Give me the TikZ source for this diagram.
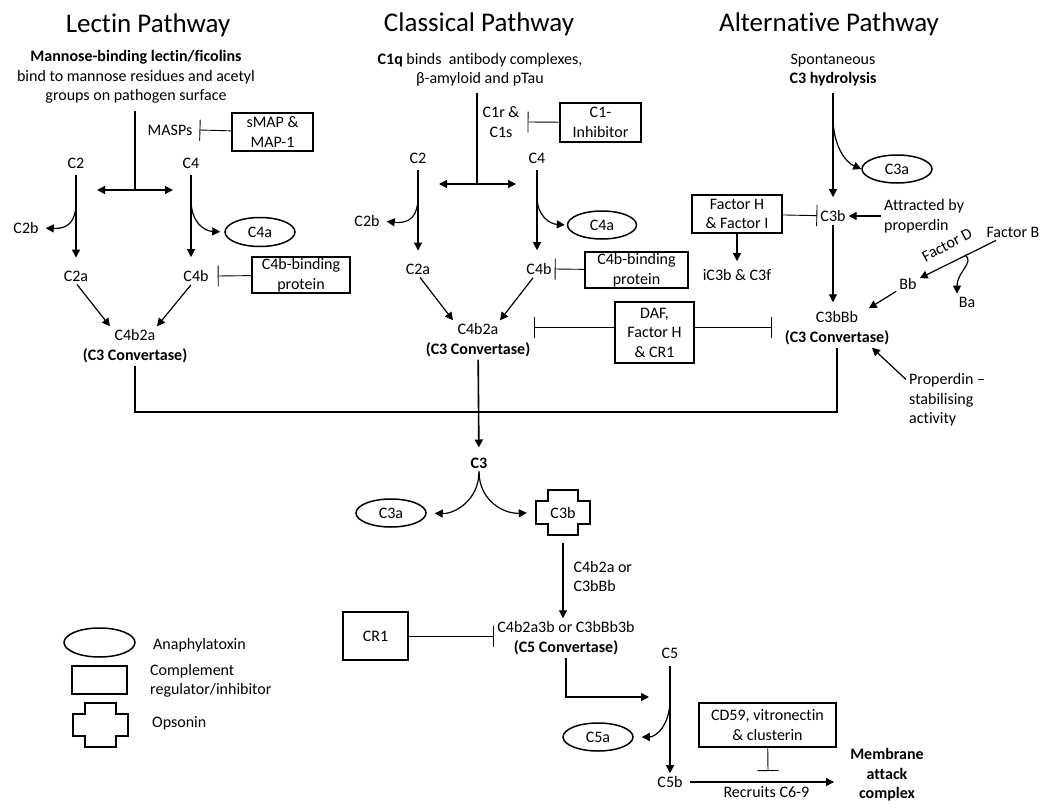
\documentclass[tikz,border=0pt]{standalone}
\usepackage{fontspec}
\setmainfont{Carlito}[Ligatures={NoCommon}]
\usepackage{tikz}
\usetikzlibrary{arrows.meta}
\usetikzlibrary{shapes.geometric,calc}

\tikzset{
  pathtitle/.style={font=\fontsize{27}{32}\selectfont},
  lbl/.style={inner sep=3pt, align=center},
  toxin/.style={draw, ellipse, line width=1.5pt, minimum width=69pt, minimum height=28pt, inner sep=0pt},
  regbox/.style={draw, rectangle, line width=1.5pt, align=center, inner sep=0pt},
  conn/.style={line width=1.2pt},
  arr/.style={line width=1.2pt, -{Triangle[length=8pt,width=8pt]}},
  dblarr/.style={line width=1.2pt, {Triangle[length=8pt,width=8pt]}-{Triangle[length=8pt,width=8pt]}},
  cleave/.style={arr, shorten <=4pt, shorten >=10pt},
  inhib/.style={line width=0.9pt, -{Bar[width=21pt,line width=0.9pt]}},
}
% cross outline for an opsonin node
\newcommand{\opsoninshape}[1]{%
  \draw[line width=1.5pt] ([xshift=12pt]#1.north west) -- ([xshift=-12pt]#1.north east)
    -- ([xshift=-12pt,yshift=-11pt]#1.north east) -- ([yshift=-11pt]#1.north east)
    -- ([yshift=11pt]#1.south east) -- ([xshift=-12pt,yshift=11pt]#1.south east)
    -- ([xshift=-12pt]#1.south east) -- ([xshift=12pt]#1.south west)
    -- ([xshift=12pt,yshift=11pt]#1.south west) -- ([yshift=11pt]#1.south west)
    -- ([yshift=-11pt]#1.north west) -- ([xshift=12pt,yshift=-11pt]#1.north west) -- cycle;}

\begin{document}
\begin{tikzpicture}[x=1pt,y=-1pt,font=\fontsize{16}{19.5}\selectfont]
	\useasboundingbox (0,0) rectangle (1045,808);
	% titles
	\node[pathtitle] (lectinT) at (148,25) {Lectin Pathway};
	\node[pathtitle] (classT) at (479,24) {Classical Pathway};
	\node[pathtitle] (altT) at (829,24) {Alternative Pathway};

	% lectin pathway
	\node[lbl] (mbl) at (136,77) {\textbf{Mannose-binding lectin/ficolins}\\bind to mannose residues and acetyl\\groups on pathogen surface};
	\coordinate (mblB) at (135,190);
	\coordinate (mblL) at (97,190);
	\coordinate (mblR) at (173,190);
	\draw[conn] ([yshift=-4pt]mbl.south -| mblB) -- (mblB);
	\draw[dblarr] (mblL) -- (mblR);
	\node[lbl] (masps) at (170,130) {MASPs};
	\node[regbox, minimum width=81pt, minimum height=38pt] (smap) at (272.5,132) {sMAP \&\\MAP-1};
	\draw[inhib] (smap) -- ([xshift=4pt]masps.east);
	\node[lbl] (c2L) at (76,163) {C2};
	\node[lbl] (c2bL) at (26,228) {C2b};
	\node[lbl] (c2aL) at (76,276) {C2a};
	\draw[cleave] (c2L) -- (c2aL);
	\coordinate (c2sp) at (76,202);
	\draw[arr, shorten >=4pt] (c2sp) .. controls (76,222) and (68,229) .. (c2bL.east);
	\node[lbl] (c4L) at (191,163) {C4};
	\node[toxin, minimum width=70pt, minimum height=29pt] (c4aL) at (260,232) {C4a};
	\node[lbl] (c4bL) at (196,276) {C4b};
	\draw[cleave] (c4L.south) -- (c4L.south |- c4bL.north);
	\coordinate (c4sp) at (191,200);
	\draw[arr, shorten >=4pt] (c4sp) .. controls (191,222) and (204,231) .. (c4aL.west);
	\node[regbox, minimum width=98pt, minimum height=36pt] (c4bbpL) at (301,275) {C4b-binding\\protein};
	\draw[inhib] (c4bbpL) -- ([xshift=6pt]c4bL.east);
	\node[lbl] (convL) at (135,346) {C4b2a\\\textbf{(C3 Convertase)}};
	\draw[arr] ([xshift=1pt]c2aL.south) -- ([xshift=-25pt]convL.north);
	\draw[arr] ([xshift=-5pt]c4bL.south) -- ([xshift=22pt]convL.north);

	% classical pathway
	\node[lbl] (c1q) at (480,70) {\textbf{C1q} binds~ antibody complexes,\\β-amyloid and pTau};
	\coordinate (c1qB) at (477,184);
	\coordinate (c1qL) at (439,184);
	\coordinate (c1qR) at (516,184);
	\draw[conn] ([yshift=-3pt]c1q.south -| c1qB) -- (c1qB);
	\draw[dblarr] (c1qL) -- (c1qR);
	\node[lbl] (c1rs) at (501,122) {C1r \&\\C1s};
	\node[regbox, minimum width=81pt, minimum height=39pt] (c1inh) at (600.5,122.5) {C1-\\Inhibitor};
	\draw[inhib] (c1inh) -- ([xshift=5pt]c1rs.east);
	\node[lbl] (c2C) at (418,158) {C2};
	\node[lbl] (c2bC) at (367,221) {C2b};
	\node[lbl] (c2aC) at (418,269) {C2a};
	\draw[cleave] (c2C) -- (c2aC);
	\coordinate (c2spC) at (418,197);
	\draw[arr, shorten >=4pt] (c2spC) .. controls (418,216) and (410,224) .. (c2bC.east);
	\node[lbl] (c4C) at (537,158) {C4};
	\node[toxin] (c4aC) at (602,225) {C4a};
	\node[lbl] (c4bC) at (539,269) {C4b};
	\draw[cleave] (c4C.south) -- (c4C.south |- c4bC.north);
	\coordinate (c4spC) at (537,197);
	\draw[arr, shorten >=2pt] (c4spC) .. controls (537,216) and (550,224) .. (c4aC.west);
	\node[regbox, minimum width=103pt, minimum height=36pt] (c4bbpC) at (636.5,270) {C4b-binding\\protein};
	\draw[inhib] (c4bbpC) -- (c4bC.east);
	\node[lbl] (convC) at (478,340) {C4b2a\\\textbf{(C3 Convertase)}};
	\draw[arr] ([xshift=2pt]c2aC.south) -- ([xshift=-25pt]convC.north);
	\draw[arr] ([xshift=-6pt]c4bC.south) -- ([xshift=22pt]convC.north);
	\node[regbox, minimum width=79pt, minimum height=61pt] (daf) at (654.5,332.5) {DAF,\\Factor H\\\& CR1};
	\coordinate (dafL) at (534,327);
	\coordinate (dafR) at (772,327);
	\draw[inhib] (daf.west |- dafL) -- (dafL);
	\draw[inhib] (daf.east |- dafR) -- (dafR);

	% alternative pathway
	\node[lbl] (spont) at (833,70) {Spontaneous\\\textbf{C3 hydrolysis}};
	\node[lbl] (c3bA) at (833,216) {C3b};
	\draw[cleave] (spont) -- (c3bA);
	\node[toxin, minimum width=70pt] (c3aA) at (897,169) {C3a};
	\coordinate (c3spA) at (833,117);
	\draw[arr] (c3spA) .. controls (833,145) and (845,162) .. (c3aA.west);
	\node[regbox, minimum width=90pt, minimum height=38pt] (fhfi) at (737,214) {Factor H\\\& Factor I};
	\draw[inhib] (fhfi) -- (c3bA);
	\node[lbl] (ic3b) at (737,275) {iC3b \& C3f};
	\draw[arr, shorten >=5pt] (fhfi) -- (ic3b);
	\node[lbl, anchor=west, align=left] (attr) at (881,216) {Attracted by\\properdin};
	\draw[arr] (attr.west) -- (c3bA.east);
	\node[lbl] (convA) at (837,328) {C3bBb\\\textbf{(C3 Convertase)}};
	\draw[arr, shorten >=6pt] (c3bA.south) -- (c3bA.south |- convA.north);
	\node[lbl] (factB) at (1013,232) {Factor B};
	\node[lbl] (bb) at (908,284) {Bb};
	\node[lbl] (ba) at (967,302) {Ba};
	\draw[arr] (factB) -- (bb);
	\node[inner sep=1pt, rotate=28] (factD) at (947,245) {Factor D};
	\coordinate (baSp) at (965,255);
	\draw[arr] (baSp) .. controls (975,262) and (957,272) .. ([xshift=-10pt]ba.north);
	\draw[arr] (bb) -- (convA);
	\node[lbl, anchor=west, align=left] (prop) at (906,400) {Properdin –\\stabilising\\activity};
	\draw[arr] ([yshift=-9pt]prop.north west) -- ([xshift=35pt]convA.south);

	% the three pathways join
	\coordinate (joinL) at (135,412);
	\coordinate (joinR) at (837,412);
	\draw[line width=1.6pt] (convL.south) -- (joinL) -- (joinR) -- (convA.south);
	\node[lbl] (c3) at (479,463) {\textbf{C3}};
	\draw[arr, line width=1.6pt, shorten >=7pt] (convC) -- (c3);
	\node[toxin, minimum width=70pt] (c3aM) at (391,513) {C3a};
	\node[inner sep=0pt, minimum width=54pt, minimum height=45pt] (c3bM) at (563,512.5) {C3b};
	\opsoninshape{c3bM}
	\draw[arr, shorten >=8pt] (c3.south) .. controls (479,500) and (455,514) .. (c3aM.east);
	\draw[arr, shorten >=9pt] (c3.south) .. controls (479,500) and (503,514) .. (c3bM.west);
	\node[lbl] (c5conv) at (566,638) {C4b2a3b or C3bBb3b\\\textbf{(C5 Convertase)}};
	\draw[arr, shorten <=8pt] (c3bM.south) -- (c3bM.south |- c5conv.north)
		node[lbl, midway, right=7pt, align=left] (viaConv) {C4b2a or\\C3bBb};
	\node[regbox, minimum width=65pt, minimum height=48pt] (cr1) at (375.5,636) {CR1};
	\draw[inhib] (cr1) -- (c5conv.west |- cr1);
	\coordinate (c5in) at (649,697);
	\draw[arr] (c5conv.south) |- (c5in);
	\node[lbl] (c5) at (670,653) {C5};
	\node[lbl] (c5b) at (670,782) {C5b};
	\draw[arr, shorten <=5pt] (c5) -- (c5b);
	\node[toxin, minimum width=70pt] (c5a) at (598,737) {C5a};
	\coordinate (c5sp) at (670,700);
	\draw[arr, shorten >=8pt] (c5sp) .. controls (670,725) and (656,737) .. (c5a.east);
	\node[lbl, font=\fontsize{16}{19.5}\bfseries] (mac) at (887,775) {Membrane\\attack\\complex};
	\draw[arr, shorten <=4pt, shorten >=13pt] (c5b) -- (c5b -| mac.west)
		node[lbl, midway, below=1pt] (recruits) {Recruits C6-9};
	\node[regbox, minimum width=137pt, minimum height=44pt] (cd59) at (767.5,725) {CD59, vitronectin\\\& clusterin};
	\coordinate (macBar) at (768,771);
	\draw[inhib] (cd59) -- (macBar);

	% legend
	\node[toxin, minimum width=71pt, minimum height=29pt] (legTox) at (99.5,642.5) {};
	\node[lbl, anchor=west] (legToxT) at (150,645) {Anaphylatoxin};
	\node[regbox, minimum width=55pt, minimum height=28pt] (legReg) at (99.5,680) {};
	\node[lbl, anchor=west, align=left] (legRegT) at (147,681) {Complement\\regulator/inhibitor};
	\node[inner sep=0pt, minimum width=55pt, minimum height=44pt] (legOps) at (100.5,725) {};
	\opsoninshape{legOps}
	\node[lbl, anchor=west] (legOpsT) at (149,723) {Opsonin};
\end{tikzpicture}
\end{document}
